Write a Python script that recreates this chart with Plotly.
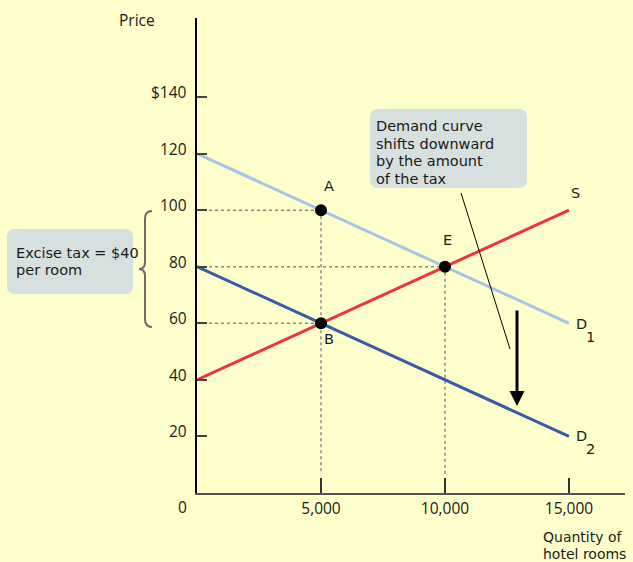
import plotly.graph_objects as go

# ---------------- data ----------------
quantity = [0, 15000]
demand_d1 = [120, 60]
demand_d2 = [80, 20]
supply_s = [40, 100]

point_names = ["A", "E", "B"]
point_q = [5000, 10000, 5000]
point_p = [100, 80, 60]

x_tick_vals = [5000, 10000, 15000]
x_tick_text = ["5,000", "10,000", "15,000"]
y_tick_vals = [20, 40, 60, 80, 100, 120, 140]
y_tick_text = ["20", "40", "60", "80", "100", "120", "$140"]

box_tax_lines = ["Excise tax = $40", "per room"]
box_shift_lines = ["Demand curve", "shifts downward", "by the amount", "of the tax"]
x_title_lines = ["Quantity of", "hotel rooms"]

# ---------------- layout geometry ----------------
W, H = 633, 562
L, R, T, B = 197, 8, 18, 69
PW, PH = W - L - R, H - T - B
XMAX = 15000 * PW / (569 - 197)
YMAX = 140 * PH / (493 - 97)

FONT = "DejaVu Sans"
NUMFONT = "Open Sans"
BG = "#ffffcc"
BOX = "#d6e0df"
TXT = "#1a1a1a"
FS = 14.5


def px(x):
    return (x - L) / PW


def py(y):
    return (H - B - y) / PH


fig = go.Figure()

fig.add_trace(go.Scatter(x=quantity, y=demand_d1, mode="lines",
                         line=dict(color="#a8c2e8", width=3), hoverinfo="skip"))
fig.add_trace(go.Scatter(x=quantity, y=demand_d2, mode="lines",
                         line=dict(color="#3b5aa8", width=3), hoverinfo="skip"))
fig.add_trace(go.Scatter(x=quantity, y=supply_s, mode="lines",
                         line=dict(color="#ee3340", width=3), hoverinfo="skip"))
fig.add_trace(go.Scatter(x=point_q, y=point_p, mode="markers",
                         marker=dict(color="black", size=12), hoverinfo="skip"))

shapes = []
dot = dict(color="#8a8a8a", width=1.5, dash="dot")
# dotted guides
for q, p in zip(point_q, point_p):
    shapes.append(dict(type="line", xref="x", yref="y", x0=0, x1=q, y0=p, y1=p,
                       line=dot, layer="below"))
for q, p in zip(point_q[:2], point_p[:2]):
    shapes.append(dict(type="line", xref="x", yref="y", x0=q, x1=q, y0=p, y1=6.5,
                       line=dot, layer="below"))


def rounded_box(x0, y0, x1, y1, r):
    pts = [
        (x0 + r, y0), (x1 - r, y0), ("Q", x1, y0, x1, y0 + r), (x1, y1 - r),
        ("Q", x1, y1, x1 - r, y1), (x0 + r, y1), ("Q", x0, y1, x0, y1 - r),
        (x0, y0 + r), ("Q", x0, y0, x0 + r, y0),
    ]
    s = "M %f,%f" % (px(pts[0][0]), py(pts[0][1]))
    for p in pts[1:]:
        if p[0] == "Q":
            s += " Q %f,%f %f,%f" % (px(p[1]), py(p[2]), px(p[3]), py(p[4]))
        else:
            s += " L %f,%f" % (px(p[0]), py(p[1]))
    return s + " Z"


shapes.append(dict(type="path", xref="paper", yref="paper",
                   path=rounded_box(7, 229, 133, 294, 8),
                   fillcolor=BOX, line=dict(width=0)))
shapes.append(dict(type="path", xref="paper", yref="paper",
                   path=rounded_box(370, 109, 527, 188, 8),
                   fillcolor=BOX, line=dict(width=0)))

# brace
bp = [
    ("M", 152, 211), ("Q", 145, 211, 145, 219), ("L", 145, 262),
    ("Q", 145, 269, 139, 269), ("Q", 145, 269, 145, 276), ("L", 145, 319),
    ("Q", 145, 327, 152, 327),
]
path = ""
for p in bp:
    if p[0] == "Q":
        path += " Q %f,%f %f,%f" % (px(p[1]), py(p[2]), px(p[3]), py(p[4]))
    else:
        path += " %s %f,%f" % (p[0], px(p[1]), py(p[2]))
shapes.append(dict(type="path", xref="paper", yref="paper", path=path.strip(),
                   line=dict(color="#6a6a6a", width=2)))

# pointer line from box
shapes.append(dict(type="line", xref="paper", yref="paper",
                   x0=px(461), y0=py(193), x1=px(510), y1=py(349),
                   line=dict(color="black", width=1)))

ann = []


def add_text(text, x, y, xanchor="center", yanchor="middle", align="center", size=FS,
             xref="paper", yref="paper", yshift=0, family=FONT):
    ann.append(dict(showarrow=False, text=text, x=x, y=y, xref=xref, yref=yref,
                    xanchor=xanchor, yanchor=yanchor, align=align, yshift=yshift,
                    font=dict(family=family, size=size, color=TXT)))


# y tick labels
for v, t in zip(y_tick_vals, y_tick_text):
    add_text(t, px(189), v, xanchor="right", yref="y", yshift=5, size=15.5, family=NUMFONT)
add_text("0", px(182), py(507), size=15.5, family=NUMFONT)
add_text("Price", px(137), py(20), size=15.5, family=NUMFONT)

# point labels
add_text("A", px(329), py(186))
add_text("E", px(447), py(240))
add_text("B", px(329), py(339))
add_text("S", px(575), py(193))
add_text("D", px(581), py(324))
add_text("1", px(590), py(337))
add_text("D", px(581), py(436))
add_text("2", px(590), py(449))

for i, t in enumerate(box_tax_lines):
    add_text(t, px(14), py(253 + 17 * i), xanchor="left")
for i, t in enumerate(box_shift_lines):
    add_text(t, px(374), py(126 + 17.5 * i), xanchor="left")
for i, t in enumerate(x_title_lines):
    add_text(t, px(541), py(537 + 16.5 * i), xanchor="left", size=14)

# thick arrow
ann.append(dict(x=px(517), y=py(406), xref="paper", yref="paper", ax=0, ay=-97,
                text="", showarrow=True, arrowhead=2, arrowsize=1, arrowwidth=3,
                arrowcolor="black"))

fig.update_layout(
    width=W, height=H,
    margin=dict(l=L, r=R, t=T, b=B),
    paper_bgcolor=BG, plot_bgcolor=BG,
    showlegend=False,
    shapes=shapes, annotations=ann,
    font=dict(family=FONT, size=14, color=TXT),
    xaxis=dict(range=[0, XMAX], showgrid=False, zeroline=False, showline=True,
               linecolor="#555555", linewidth=2, ticks="inside", ticklen=15,
               tickwidth=1.5, tickcolor="#333333", tickvals=x_tick_vals,
               ticktext=x_tick_text, tickfont=dict(family=NUMFONT, size=15.5, color=TXT),
               fixedrange=True),
    yaxis=dict(range=[0, YMAX], showgrid=False, zeroline=False, showline=True,
               linecolor="black", linewidth=1.5, ticks="inside", ticklen=10,
               tickwidth=1.5, tickcolor="#444444", tickvals=y_tick_vals,
               showticklabels=False, fixedrange=True),
)

fig.write_html("out.html", config={"displayModeBar": False},
               post_script="document.body.style.margin='0';document.body.style.overflow='hidden';")
